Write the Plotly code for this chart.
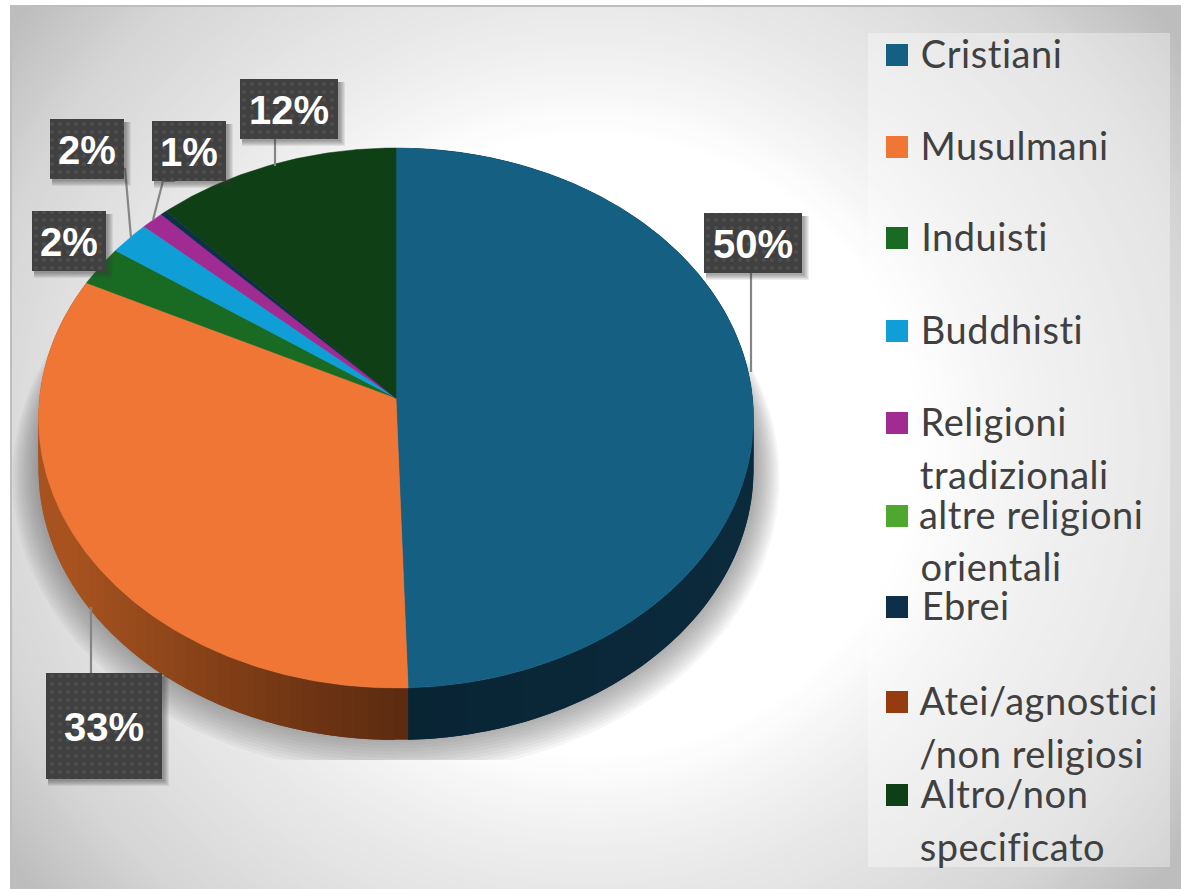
import numpy as np
import plotly.graph_objects as go

# ---------- data ----------
categories = ["Cristiani", "Musulmani", "Induisti", "Buddhisti", "Religioni tradizionali",
              "altre religioni orientali", "Ebrei", "Atei/agnostici /non religiosi", "Altro/non specificato"]
values = [49.5, 32.8, 2.4, 2.0, 1.1, 0.0, 0.3, 0.0, 11.9]
colors = ["#156082", "#F07635", "#196B24", "#0F9ED5", "#A02B93", "#4EA72E", "#0E2F4A", "#953B10", "#0F3F14"]
legend_lines = [["Cristiani"], ["Musulmani"], ["Induisti"], ["Buddhisti"], ["Religioni", "tradizionali"],
                ["altre religioni", "orientali"], ["Ebrei"], ["Atei/agnostici", "/non religiosi"],
                ["Altro/non", "specificato"]]
legend_y = [55, 147, 238, 331, 423, 516, 607, 702, 795]
line_gap = [0, 0, 0, 0, 53, 52, 0, 53, 53]
# which slices carry a label, with box (x0, y0, x1, y1) and leader line
label_boxes = {0: (704, 213, 802, 273), 1: (46, 673, 162, 779), 2: (32, 211, 106, 271),
               3: (50, 119, 124, 179), 4: (152, 121, 226, 181), 8: (240, 79, 338, 139)}
leaders = [[(751, 273), (751, 372)], [(91, 607), (91, 673)], [(125, 168), (131, 238)],
           [(175, 181), (163, 181), (153, 220)], [(275, 139), (275, 166)]]

W, H = 1181, 889
CX, CY, RX, RY = 396, 418, 357.5, 270
DEPTH = 52 / RY
TILT = 20 / RY  # apex shift due to perspective
total = sum(values)


def project(frac):
    """slice fraction (clockwise from top) -> rim point of the tilted disk"""
    th = 2 * np.pi * np.asarray(frac)
    u, v = np.sin(th), np.cos(th)
    w = 1 + TILT * v
    return np.sqrt(1 - TILT ** 2) * u / w, (v + TILT) / w


def lerp(a, b, t):
    a = [int(a[i:i + 2], 16) for i in (1, 3, 5)]
    b = [int(b[i:i + 2], 16) for i in (1, 3, 5)]
    return "#%02x%02x%02x" % tuple(round(x + (y - x) * t) for x, y in zip(a, b))


fig = go.Figure()

# ---------- panel background ----------
shapes = []
for t in np.linspace(1.65, 0.66, 100):
    g = int(round(np.interp(t, [0.7, 0.84, 0.955, 1.135, 1.34, 1.56], [255, 243, 235, 225, 213, 189])))
    rx, ry = t * 470, t * 445
    shapes.append(dict(type="circle", xref="paper", yref="paper", layer="below", line_width=0,
                       x0=(590 - rx) / W, x1=(590 + rx) / W, y0=(444 - ry) / H, y1=(444 + ry) / H,
                       fillcolor=f"rgb({g},{g},{g})"))
# page margin + thin frame
for x0, y0, x1, y1, c in [(-5, -5, 10, H + 5, "white"), (-5, -5, W + 5, 5, "white"),
                          (10, 5, 12, H + 5, "#bdbdbd"), (10, 5, W + 5, 7, "#bdbdbd")]:
    shapes.append(dict(type="rect", xref="paper", yref="paper", layer="below", line_width=0,
                       x0=x0 / W, x1=x1 / W, y0=(H - y1) / H, y1=(H - y0) / H, fillcolor=c))
# legend panel
shapes.append(dict(type="rect", xref="paper", yref="paper", layer="below", line_width=0,
                   x0=868 / W, x1=1170 / W, y0=(H - 867) / H, y1=(H - 33) / H,
                   fillcolor="rgba(255,255,255,0.35)"))

# ---------- pie shadow ----------
aa = np.linspace(0, 2 * np.pi, 240)
for i in range(12):
    grow = 26 - i * 2.2
    sx = np.cos(aa) * (RX + grow) / RX
    sy = np.sin(aa) * (RY + grow) / RY - (60 - i) / RY
    sy = np.maximum(sy, -(760 - CY) / RY)
    fig.add_trace(go.Scatter(x=sx, y=sy, mode="lines", fill="toself", line_width=0,
                             fillcolor="rgba(90,90,90,0.055)", hoverinfo="skip", showlegend=False))

# ---------- slices ----------
edges = np.concatenate([[0], np.cumsum(values)]) / total

# side wall: overlapping strips so the shading has no seams
for i, v in enumerate(values[:2]):
    a, b = edges[i], edges[i + 1]
    n = 60
    f = np.linspace(a, b, n + 1)
    order = range(n) if i == 1 else range(n - 1, -1, -1)
    for k in order:
        hi = f[min(k + 2, n)]
        ff = np.linspace(f[k], hi, 6)
        x, y = project(ff)
        xm = project((f[k] + f[k + 1]) / 2)[0]
        if i == 1:
            col = lerp("#5C2B10", "#A8531F", min(1, max(0, (0.036 - xm) / 0.95)) ** 1.15)
        else:
            col = lerp("#082433", "#0B2A3C", min(1, max(0, xm)))
        px_ = np.concatenate([x, x[::-1]])
        py_ = np.concatenate([y, y[::-1] - DEPTH])
        fig.add_trace(go.Scatter(x=px_, y=py_, mode="lines", fill="toself", fillcolor=col,
                                 line_width=0, hoverinfo="skip", showlegend=False))

# top faces
apex_x, apex_y = 0.0, TILT
for i, (name, v, c) in enumerate(zip(categories, values, colors)):
    if v == 0:
        continue
    n = max(3, int(v * 6))
    x, y = project(np.linspace(edges[i], edges[i + 1], n))
    fig.add_trace(go.Scatter(x=np.r_[apex_x, x, apex_x], y=np.r_[apex_y, y, apex_y], name=name,
                             mode="lines", fill="toself", fillcolor=c, line=dict(color=c, width=0.5),
                             hoverinfo="name", showlegend=False))

# ---------- overlay in pixel space: labels, leader lines, legend swatches ----------
ov = dict(xaxis="x2", yaxis="y2", showlegend=False, hoverinfo="skip")
for pts in leaders:
    fig.add_trace(go.Scatter(x=[p[0] for p in pts], y=[p[1] for p in pts], mode="lines",
                             line=dict(color="#858585", width=2.2), **ov))
annotations = []
for i, (x0, y0, x1, y1) in label_boxes.items():
    for s in range(6):
        d = 7 - s
        fig.add_trace(go.Scatter(x=[x0 + 2, x1 + d, x1 + d, x0 + 2, x0 + 2],
                                 y=[y0 + 3, y0 + 3, y1 + d, y1 + d, y0 + 3],
                                 mode="lines", fill="toself", line_width=0,
                                 fillcolor="rgba(60,60,60,0.09)", **ov))
    fig.add_trace(go.Scatter(x=[x0, x1, x1, x0, x0], y=[y0, y0, y1, y1, y0], mode="lines", fill="toself",
                             line_width=0, fillcolor="#404040",
                             fillpattern=dict(shape=".", bgcolor="#404040", fgcolor="#5c5c5c", size=8, solidity=0.2),
                             **ov))
    annotations.append(dict(xref="x2", yref="y2", x=(x0 + x1) / 2, y=(y0 + y1) / 2 + 1, showarrow=False,
                            text=f"<b>{round(values[i] / total * 100)}%</b>",
                            font=dict(family="Liberation Sans", size=40, color="white")))

fig.add_trace(go.Scatter(x=[897] * len(categories), y=legend_y, mode="markers",
                         marker=dict(symbol="square", size=22, color=colors, line_width=0), **ov))
for y, lines, gap in zip(legend_y, legend_lines, line_gap):
    for j, line in enumerate(lines):
        annotations.append(dict(xref="x2", yref="y2", x=921, y=y - 2 + j * gap, xanchor="left", showarrow=False,
                                text=line, font=dict(family="Lato", size=38, color="#404040")))

fig.update_layout(
    width=W, height=H, margin=dict(l=0, r=0, t=0, b=0), autosize=False,
    paper_bgcolor="white", plot_bgcolor="rgba(0,0,0,0)", showlegend=False,
    shapes=shapes, annotations=annotations,
    xaxis=dict(range=[-CX / RX, (W - CX) / RX], visible=False, domain=[0, 1]),
    yaxis=dict(range=[(CY - H) / RY, CY / RY], visible=False, domain=[0, 1]),
    xaxis2=dict(range=[0, W], visible=False, overlaying="x", anchor="y2"),
    yaxis2=dict(range=[H, 0], visible=False, overlaying="y", anchor="x2"),
)
post = """
document.body.style.margin='0';
document.documentElement.style.overflow='hidden';
var st=document.createElement('style');
st.textContent=".annotation-text{font-variant-ligatures:none;font-feature-settings:'liga' 0;}"
 + ".annotation-text[style*='Lato']{letter-spacing:0.55px;}";
document.head.appendChild(st);
"""
fig.write_html("out.html", post_script=post, config={"displayModeBar": False})
